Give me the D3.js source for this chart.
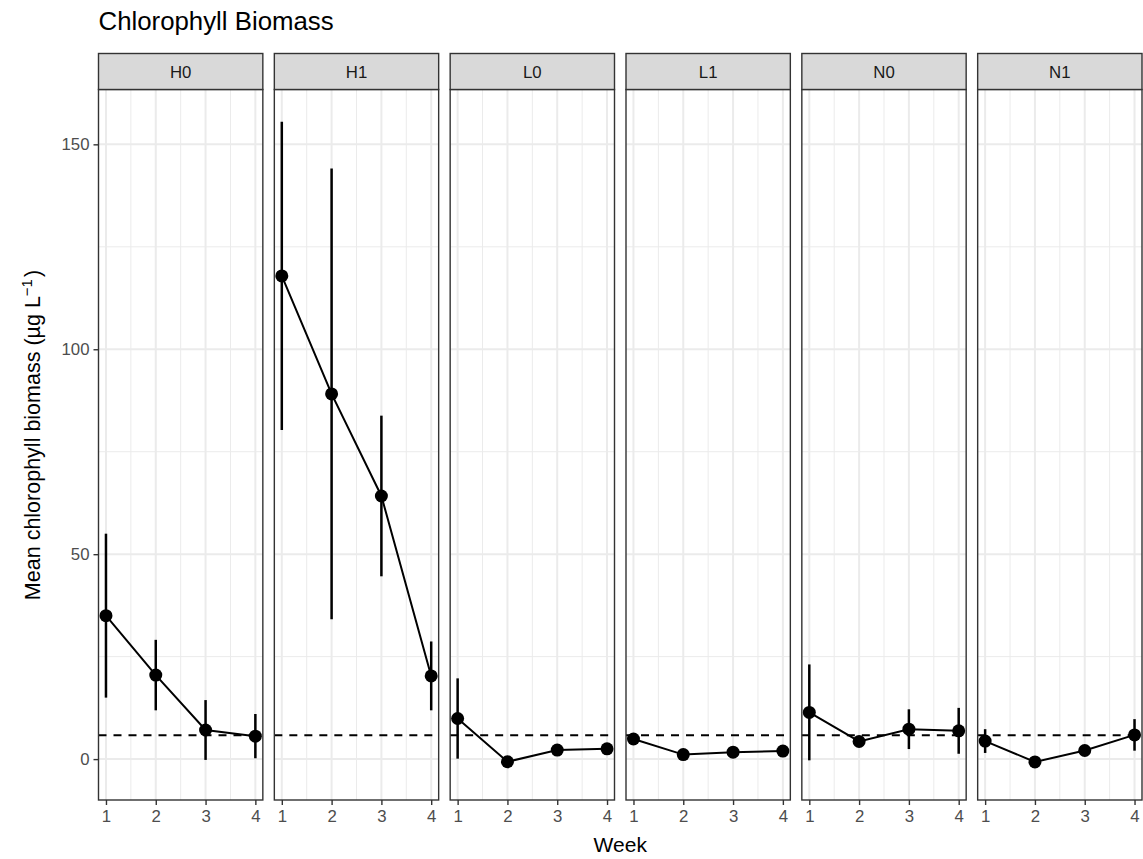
<!DOCTYPE html>
<html>
<head>
<meta charset="utf-8">
<script src="https://cdn.jsdelivr.net/npm/d3@7"></script>
<style>
  body { margin: 0; background: #fff; }
  svg { display: block; font-family: "Liberation Sans", Arial, Helvetica, sans-serif; }
</style>
</head>
<body>
<svg id="chart" width="1143" height="859"></svg>
<script>
// Treatments shown as facets, and the sampling weeks
const panels = ["H0", "H1", "L0", "L1", "N0", "N1"];
const weeks = [1, 2, 3, 4];
const weekTicks = [1, 2, 3, 4];
const yTicks = [0, 50, 100, 150];

// Mean chlorophyll biomass per treatment and week (µg/L)
const meanH0 = [35.0, 20.5, 7.1, 5.6];
const meanH1 = [117.9, 89.1, 64.2, 20.3];
const meanL0 = [9.9, -0.65, 2.2, 2.5];
const meanL1 = [4.9, 1.1, 1.7, 1.95];
const meanN0 = [11.4, 4.3, 7.3, 6.9];
const meanN1 = [4.4, -0.7, 2.1, 5.9];

// Half-width of the error bars
const errH0 = [20.0, 8.6, 7.3, 5.4];
const errH1 = [37.6, 55.0, 19.6, 8.4];
const errL0 = [9.8, 1.2, 0.8, 0.6];
const errL1 = [0.9, 0.7, 0.6, 0.8];
const errN0 = [11.7, 1.0, 4.85, 5.6];
const errN1 = [2.9, 1.4, 0.9, 3.85];

// Reference level drawn as a dashed line in every facet
const reference = 5.8;

const means = { H0: meanH0, H1: meanH1, L0: meanL0, L1: meanL1, N0: meanN0, N1: meanN1 };
const errs = { H0: errH0, H1: errH1, L0: errL0, L1: errL1, N0: errN0, N1: errN1 };

const rows = panels.map(p => ({
  panel: p,
  points: weeks.map((w, i) => ({ week: w, mean: means[p][i], lo: means[p][i] - errs[p][i], hi: means[p][i] + errs[p][i] }))
}));

// Layout
const plotLeft = 98.5, plotRight = 1142, stripTop = 53.5, plotTop = 89.5, plotBottom = 800;
const gap = 11.5;
const pw = (plotRight - plotLeft - gap * (panels.length - 1)) / panels.length;

const svg = d3.select("#chart");

// Shared y scale with 5% padding, like a ggplot continuous scale
const allLo = d3.min(rows, r => d3.min(r.points, d => d.lo));
const allHi = d3.max(rows, r => d3.max(r.points, d => d.hi));
const pad = (allHi - allLo) * 0.05;
const y = d3.scaleLinear().domain([allLo - pad, allHi + pad]).range([plotBottom, plotTop]);
const yMinor = [25, 75, 125];
const xMinor = [1.5, 2.5, 3.5];

// Title
svg.append("text")
  .attr("x", plotLeft).attr("y", 30)
  .attr("font-size", 25.8).attr("fill", "#000")
  .text("Chlorophyll Biomass");

rows.forEach((row, idx) => {
  const x0 = plotLeft + idx * (pw + gap);
  const x = d3.scaleLinear().domain([0.85, 4.15]).range([x0, x0 + pw]);
  const g = svg.append("g");

  // Panel background and grid
  g.append("rect").attr("x", x0).attr("y", plotTop).attr("width", pw).attr("height", plotBottom - plotTop).attr("fill", "#fff");
  g.selectAll(".ymin").data(yMinor).join("line")
    .attr("x1", x0).attr("x2", x0 + pw).attr("y1", d => y(d)).attr("y2", d => y(d))
    .attr("stroke", "#ebebeb").attr("stroke-width", 1);
  g.selectAll(".xmin").data(xMinor).join("line")
    .attr("y1", plotTop).attr("y2", plotBottom).attr("x1", d => x(d)).attr("x2", d => x(d))
    .attr("stroke", "#ebebeb").attr("stroke-width", 1);
  g.selectAll(".ymaj").data(yTicks).join("line")
    .attr("x1", x0).attr("x2", x0 + pw).attr("y1", d => y(d)).attr("y2", d => y(d))
    .attr("stroke", "#ebebeb").attr("stroke-width", 2);
  g.selectAll(".xmaj").data(weekTicks).join("line")
    .attr("y1", plotTop).attr("y2", plotBottom).attr("x1", d => x(d)).attr("x2", d => x(d))
    .attr("stroke", "#ebebeb").attr("stroke-width", 2);

  // Dashed reference line
  g.append("line")
    .attr("x1", x0).attr("x2", x0 + pw).attr("y1", y(reference)).attr("y2", y(reference))
    .attr("stroke", "#000").attr("stroke-width", 2).attr("stroke-dasharray", "8,7");

  // Error bars
  g.selectAll(".err").data(row.points).join("line")
    .attr("x1", d => x(d.week)).attr("x2", d => x(d.week))
    .attr("y1", d => y(d.lo)).attr("y2", d => y(d.hi))
    .attr("stroke", "#000").attr("stroke-width", 2.5);

  // Connecting line
  g.append("path").datum(row.points)
    .attr("d", d3.line().x(d => x(d.week)).y(d => y(d.mean)))
    .attr("fill", "none").attr("stroke", "#000").attr("stroke-width", 2);

  // Points
  g.selectAll(".pt").data(row.points).join("circle")
    .attr("cx", d => x(d.week)).attr("cy", d => y(d.mean)).attr("r", 6.5)
    .attr("fill", "#000");

  // Panel border
  g.append("rect").attr("x", x0).attr("y", plotTop).attr("width", pw).attr("height", plotBottom - plotTop)
    .attr("fill", "none").attr("stroke", "#333").attr("stroke-width", 1.4);

  // Strip
  g.append("rect").attr("x", x0).attr("y", stripTop).attr("width", pw).attr("height", plotTop - stripTop)
    .attr("fill", "#d9d9d9").attr("stroke", "#333").attr("stroke-width", 1.4);
  g.append("text")
    .attr("x", x0 + pw / 2).attr("y", (stripTop + plotTop) / 2)
    .attr("dy", "0.36em").attr("text-anchor", "middle")
    .attr("font-size", 16.8).attr("fill", "#1a1a1a")
    .text(row.panel);

  // Bottom axis
  const xa = g.append("g").attr("transform", `translate(0,${plotBottom})`)
    .call(d3.axisBottom(x).tickValues(weekTicks).tickFormat(d3.format("d")).tickSize(5).tickPadding(5));
  xa.select(".domain").remove();
  xa.selectAll(".tick line").attr("stroke", "#333").attr("stroke-width", 1.4);
  xa.selectAll(".tick text").attr("fill", "#4d4d4d").attr("font-size", 16.8)
    .attr("font-family", "'Liberation Sans', Arial, Helvetica, sans-serif");

  // Left axis only on the first facet
  if (idx === 0) {
    const ya = g.append("g").attr("transform", `translate(${x0},0)`)
      .call(d3.axisLeft(y).tickValues(yTicks).tickSize(5).tickPadding(4));
    ya.select(".domain").remove();
    ya.selectAll(".tick line").attr("stroke", "#333").attr("stroke-width", 1.4);
    ya.selectAll(".tick text").attr("fill", "#4d4d4d").attr("font-size", 16.8)
      .attr("font-family", "'Liberation Sans', Arial, Helvetica, sans-serif");
  }
});

// Axis titles
svg.append("text")
  .attr("x", (plotLeft + plotRight) / 2).attr("y", 852)
  .attr("text-anchor", "middle").attr("font-size", 21).attr("fill", "#000")
  .text("Week");

const yl = svg.append("text")
  .attr("transform", `translate(40,435) rotate(-90)`)
  .attr("text-anchor", "middle").attr("font-size", 21.5).attr("fill", "#000");
yl.append("tspan").text("Mean chlorophyll biomass (µg L");
yl.append("tspan").attr("dy", -8).attr("font-size", 15).text("−1");
yl.append("tspan").attr("dy", 8).attr("dx", 2).text(")");
</script>
</body>
</html>
